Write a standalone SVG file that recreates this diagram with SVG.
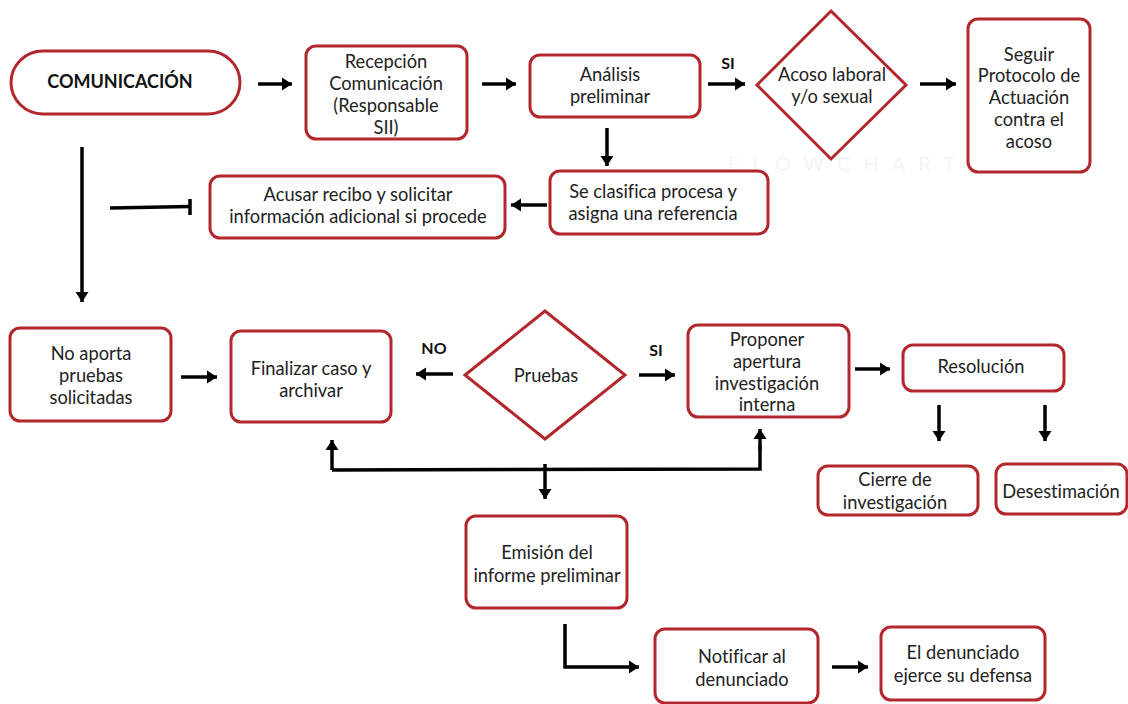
<svg xmlns="http://www.w3.org/2000/svg" width="1128" height="704" viewBox="0 0 1128 704">
<defs>
<marker id="ah" markerUnits="userSpaceOnUse" markerWidth="12" markerHeight="14" refX="10" refY="7" orient="auto">
<path d="M0,0.5 L10,7 L0,13.5 z" fill="#000"/>
</marker>
<style>
.n{fill:#fff;stroke:#b3262c;stroke-width:3}
.t{font-family:Lato,"Liberation Sans",sans-serif;font-size:18.3px;fill:#222;text-anchor:middle;font-variant-ligatures:none}
.b{font-family:Lato,"Liberation Sans",sans-serif;font-weight:bold;fill:#111;text-anchor:middle}
.c{fill:none;stroke:#000;stroke-width:3.5}
.a{fill:none;stroke:#000;stroke-width:3.5;marker-end:url(#ah)}
</style>
</defs>
<rect width="1128" height="704" fill="#fff"/>
<text x="848" y="171" font-family="Lato,'Liberation Sans',sans-serif" font-size="20" fill="#f7f4f4" text-anchor="middle" letter-spacing="13">FLOWCHART</text>

<g id="connectors">
<line class="a" x1="258" y1="84" x2="292" y2="84"/>
<line class="a" x1="482" y1="84" x2="516" y2="84"/>
<line class="a" x1="708" y1="84" x2="745" y2="84"/>
<line class="a" x1="920" y1="84" x2="956" y2="84"/>
<line class="a" x1="607" y1="128" x2="607" y2="166"/>
<line class="a" x1="547" y1="205" x2="511" y2="205"/>
<line class="c" x1="110" y1="208" x2="190" y2="206.5"/>
<line class="c" x1="190" y1="199" x2="190" y2="215"/>
<line class="a" x1="82" y1="147" x2="82" y2="302"/>
<line class="a" x1="181" y1="377" x2="217" y2="377"/>
<line class="a" x1="453" y1="374" x2="416" y2="374"/>
<line class="a" x1="639" y1="375" x2="675" y2="375"/>
<line class="a" x1="855" y1="369" x2="890" y2="369"/>
<line class="a" x1="939" y1="405" x2="939" y2="441"/>
<line class="a" x1="1045" y1="405" x2="1045" y2="441"/>
<polyline class="a" points="332,470 332,440"/>
<polyline class="c" points="332,470 760,469 760,446"/>
<line class="a" x1="760" y1="450" x2="760" y2="429"/>
<line class="a" x1="545" y1="464" x2="545" y2="499"/>
<polyline class="a" points="565,624 565,667 639,667"/>
<line class="a" x1="832" y1="667" x2="868" y2="667"/>
</g>

<g id="comunicacion">
<rect class="n" x="11" y="51" width="229" height="63" rx="32"/>
<text class="b" x="120" y="88" font-size="18">COMUNICACIÓN</text>
</g>
<g id="recepcion">
<rect class="n" x="306" y="46" width="161" height="93" rx="10"/>
<text class="t" x="386" y="68">Recepción</text>
<text class="t" x="386" y="90">Comunicación</text>
<text class="t" x="386" y="112">(Responsable</text>
<text class="t" x="386" y="134">SII)</text>
</g>
<g id="analisis">
<rect class="n" x="530" y="55" width="170" height="62" rx="10"/>
<text class="t" x="610" y="81">Análisis</text>
<text class="t" x="610" y="103">preliminar</text>
</g>
<text class="b" x="728" y="69" font-size="16">SI</text>
<g id="acoso">
<polygon class="n" points="831,11 906,85 831,159 757,85"/>
<text class="t" x="832" y="81">Acoso laboral</text>
<text class="t" x="832" y="103">y/o sexual</text>
</g>
<g id="seguir">
<rect class="n" x="968" y="19" width="122" height="153" rx="10"/>
<text class="t" x="1029" y="61">Seguir</text>
<text class="t" x="1029" y="82">Protocolo de</text>
<text class="t" x="1029" y="104">Actuación</text>
<text class="t" x="1029" y="126">contra el</text>
<text class="t" x="1029" y="148">acoso</text>
</g>
<g id="clasifica">
<rect class="n" x="550" y="171" width="218" height="63" rx="10"/>
<text class="t" x="653" y="198">Se clasifica procesa y</text>
<text class="t" x="653" y="220">asigna una referencia</text>
</g>
<g id="acusar">
<rect class="n" x="210" y="176" width="295" height="62" rx="10"/>
<text class="t" x="358" y="201">Acusar recibo y solicitar</text>
<text class="t" x="358" y="223">información adicional si procede</text>
</g>
<g id="noaporta">
<rect class="n" x="10" y="328" width="161" height="93" rx="10"/>
<text class="t" x="91" y="360">No aporta</text>
<text class="t" x="91" y="382">pruebas</text>
<text class="t" x="91" y="404">solicitadas</text>
</g>
<g id="finalizar">
<rect class="n" x="231" y="331" width="160" height="91" rx="10"/>
<text class="t" x="311" y="375">Finalizar caso y</text>
<text class="t" x="311" y="397">archivar</text>
</g>
<text class="b" x="434" y="354" font-size="16">NO</text>
<g id="pruebas">
<polygon class="n" points="545,311 625,375 545,439 465,375"/>
<text class="t" x="546" y="382">Pruebas</text>
</g>
<text class="b" x="656" y="356" font-size="16">SI</text>
<g id="proponer">
<rect class="n" x="688" y="325" width="161" height="92" rx="10"/>
<text class="t" x="767" y="346">Proponer</text>
<text class="t" x="767" y="368">apertura</text>
<text class="t" x="767" y="390">investigación</text>
<text class="t" x="767" y="411">interna</text>
</g>
<g id="resolucion">
<rect class="n" x="903" y="345" width="161" height="46" rx="10"/>
<text class="t" x="981" y="373">Resolución</text>
</g>
<g id="cierre">
<rect class="n" x="818" y="466" width="160" height="49" rx="10"/>
<text class="t" x="895" y="486">Cierre de</text>
<text class="t" x="895" y="509">investigación</text>
</g>
<g id="desestimacion">
<rect class="n" x="996" y="464" width="131" height="50" rx="10"/>
<text class="t" x="1061" y="498">Desestimación</text>
</g>
<g id="emision">
<rect class="n" x="466" y="516" width="161" height="92" rx="10"/>
<text class="t" x="547" y="559">Emisión del</text>
<text class="t" x="547" y="582">informe preliminar</text>
</g>
<g id="notificar">
<rect class="n" x="655" y="629" width="163" height="74" rx="10"/>
<text class="t" x="742" y="663">Notificar al</text>
<text class="t" x="742" y="686">denunciado</text>
</g>
<g id="defensa">
<rect class="n" x="881" y="627" width="164" height="73" rx="10"/>
<text class="t" x="963" y="659">El denunciado</text>
<text class="t" x="963" y="682">ejerce su defensa</text>
</g>
</svg>
